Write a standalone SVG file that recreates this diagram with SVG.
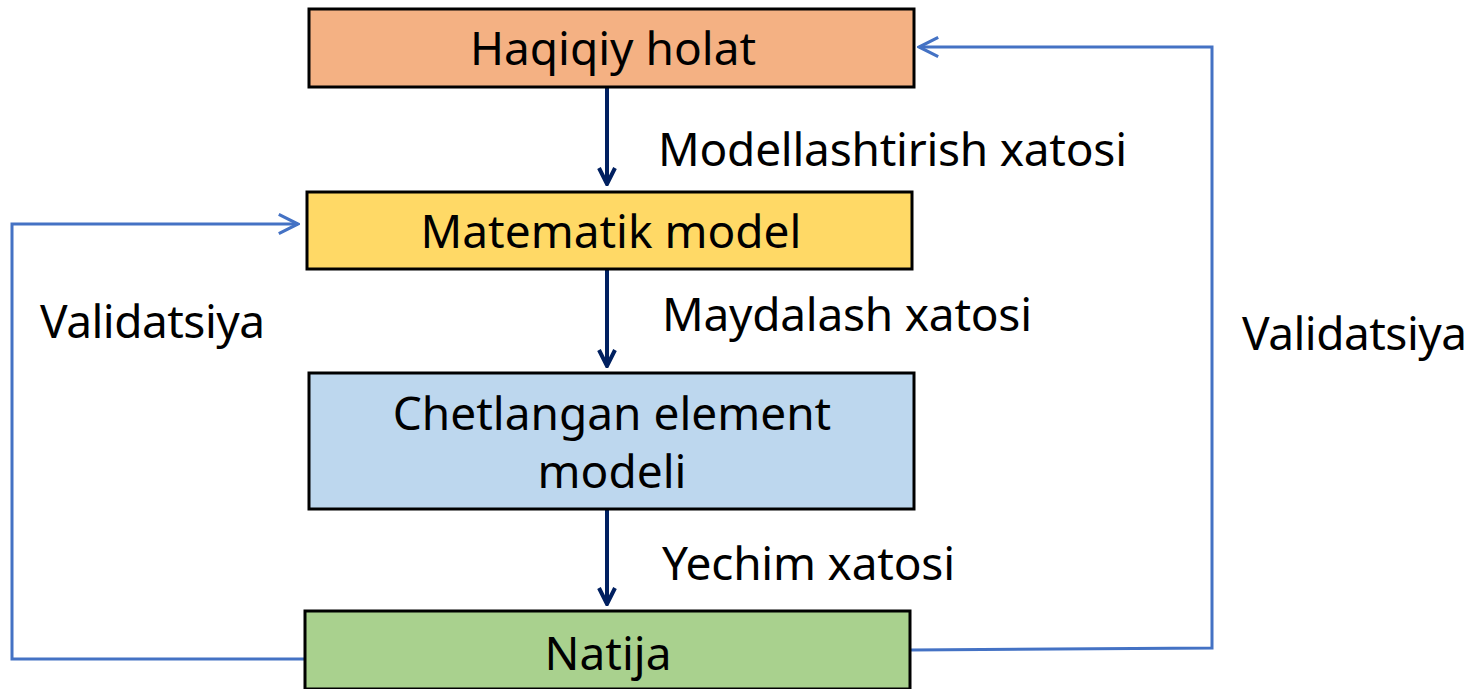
<svg xmlns="http://www.w3.org/2000/svg" width="1472" height="689" viewBox="0 0 1472 689">
<defs>
<style>
.box{stroke:#000;stroke-width:3}
.t{font-family:"Noto Sans","Open Sans",sans-serif;font-size:46px;fill:#000}
.c{text-anchor:middle}
.dark{stroke:#002060;stroke-width:4;fill:none}
.blue{stroke:#4472C4;stroke-width:3;fill:none}
</style>
<marker id="ad" viewBox="0 0 10 10" refX="9" refY="5" markerWidth="5" markerHeight="5" orient="auto" markerUnits="strokeWidth">
<path d="M1,1 L9,5 L1,9" fill="none" stroke="#002060" stroke-width="2"/>
</marker>
<marker id="ab" viewBox="0 0 10 10" refX="9" refY="5" markerWidth="8" markerHeight="8" orient="auto" markerUnits="strokeWidth">
<path d="M1,1 L9,5 L1,9" fill="none" stroke="#4472C4" stroke-width="1.3"/>
</marker>
</defs>
<g id="connectors">
<line class="dark" x1="607" y1="88" x2="607" y2="184" marker-end="url(#ad)"/>
<line class="dark" x1="607" y1="270" x2="607" y2="366" marker-end="url(#ad)"/>
<line class="dark" x1="607" y1="510" x2="607" y2="604" marker-end="url(#ad)"/>
<polyline class="blue" points="305,659 12,659 12,224 298,224" marker-end="url(#ab)"/>
<polyline class="blue" points="911,650 1212,648 1212,47 919,47" marker-end="url(#ab)"/>
<text class="t" x="658" y="166" textLength="469">Modellashtirish xatosi</text>
<text class="t" x="662" y="331" textLength="370">Maydalash xatosi</text>
<text class="t" x="662" y="580" textLength="293">Yechim xatosi</text>
<text class="t" x="40" y="338" textLength="225">Validatsiya</text>
<text class="t" x="1242" y="350" textLength="225">Validatsiya</text>
</g>
<g id="n1"><rect class="box" x="309" y="9" width="605" height="78" fill="#F4B183"/><text class="t c" x="613" y="65">Haqiqiy holat</text></g>
<g id="n2"><rect class="box" x="307" y="192" width="605" height="77" fill="#FFD966"/><text class="t c" x="611" y="248">Matematik model</text></g>
<g id="n3"><rect class="box" x="309" y="373" width="605" height="136" fill="#BDD7EE"/><text class="t c" x="612" y="430">Chetlangan element</text><text class="t c" x="612" y="488">modeli</text></g>
<g id="n4"><rect class="box" x="305" y="611" width="605" height="78" fill="#A9D18E"/><text class="t c" x="608" y="670">Natija</text></g>
</svg>
